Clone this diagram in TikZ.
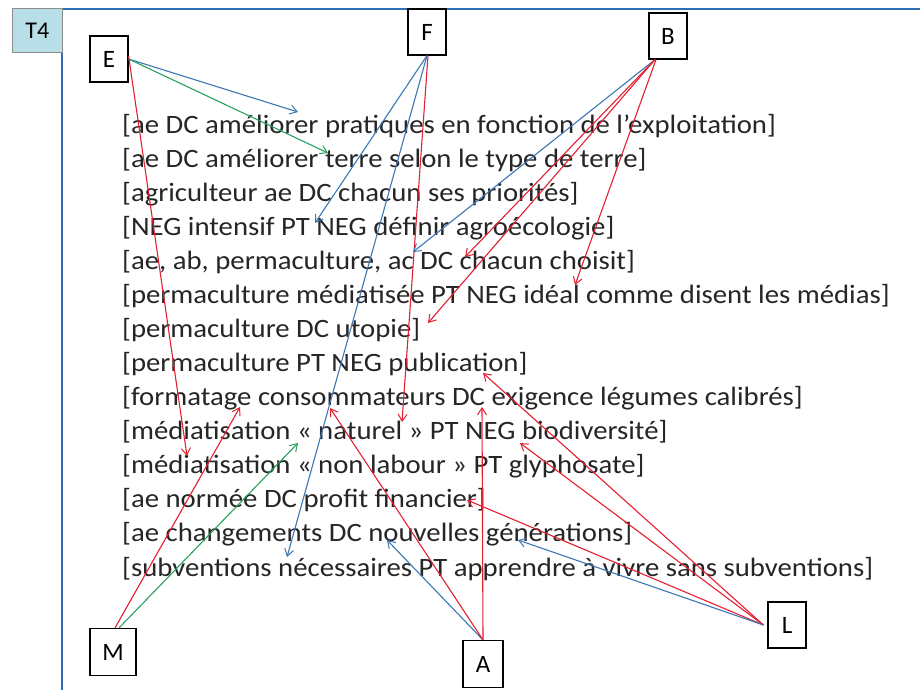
\documentclass[tikz,border=0pt]{standalone}
\usepackage{fontspec}
\setmainfont{Carlito}
\newfontfamily\headfont{Liberation Serif}
\usetikzlibrary{arrows.meta}
\definecolor{cred}{RGB}{228,32,48}
\definecolor{cblue}{RGB}{60,120,180}
\definecolor{cgreen}{RGB}{40,160,95}
\definecolor{frameblue}{RGB}{46,110,178}
\definecolor{tfill}{RGB}{184,222,232}
\tikzset{
  lbox/.style={draw=black, line width=1.2pt, fill=white, minimum width=38pt, minimum height=46pt, inner sep=0pt, font=\fontsize{25}{25}\selectfont},
  stmt/.style={anchor=base west, inner sep=0pt, font=\fontsize{26.5}{26.5}\selectfont, text=black!85},
  conn/.style={line width=1.1pt, -{Straight Barb[length=7pt,width=9pt,line width=1pt]}},
  rc/.style={conn, draw=cred},
  bc/.style={conn, draw=cblue},
  gc/.style={conn, draw=cgreen},
}
\begin{document}
\begin{tikzpicture}[x=1pt,y=-1pt]
\useasboundingbox (0,0) rectangle (920,689);
\fill[white] (0,0) rectangle (920,689);
% cut heading fragment
\begin{scope}
\clip (300,0) rectangle (380,4);
\node[anchor=base, inner sep=0pt, font=\headfont\bfseries\fontsize{26}{26}\selectfont] (head) at (335,-6) {pp};
\end{scope}
% frame
\draw[frameblue, line width=2.2pt] (62,692) -- (62,9) -- (922,9);
\node[draw=black!45, fill=tfill, line width=0.8pt, minimum width=50pt, minimum height=44pt, inner sep=0pt, font=\fontsize{24}{24}\selectfont, anchor=north west] (T4) at (12,8) {T4};
% statements
\foreach \i/\t in {0/{[ae DC améliorer pratiques en fonction de l’exploitation]},
  1/{[ae DC améliorer terre selon le type de terre]},
  2/{[agriculteur ae DC chacun ses priorités]},
  3/{[NEG intensif PT NEG définir agroécologie]},
  4/{[ae, ab, permaculture, ac DC chacun choisit]},
  5/{[permaculture médiatisée PT NEG idéal comme disent les médias]},
  6/{[permaculture DC utopie]},
  7/{[permaculture PT NEG publication]},
  8/{[formatage consommateurs DC exigence légumes calibrés]},
  9/{[médiatisation « naturel » PT NEG biodiversité]},
  10/{[médiatisation « non labour » PT glyphosate]},
  11/{[ae normée DC profit financier]},
  12/{[ae changements DC nouvelles générations]},
  13/{[subventions nécessaires PT apprendre à vivre sans subventions]}}
  \node[stmt] (s\i) at (122,{133+34.08*\i}) {\scalebox{1.085}[1]{\t}};
% actor boxes
\node[lbox] (E) at (109,59) {E};
\node[lbox] (F) at (427,32) {F};
\node[lbox] (B) at (668,36) {B};
\node[lbox, minimum width=46pt, minimum height=47pt] (M) at (113,652) {M};
\node[lbox, minimum width=40pt, minimum height=47pt] (A) at (483,664) {A};
\node[lbox] (L) at (787,625) {L};
% arrow end points
\coordinate (e1) at (298,112);
\coordinate (e2) at (328,153);
\coordinate (e3) at (187,456);
\coordinate (f1) at (315,223);
\coordinate (f2) at (287,557);
\coordinate (f3) at (402,422);
\coordinate (b1) at (413,252);
\coordinate (b2) at (465,257);
\coordinate (b3) at (428,323);
\coordinate (b4) at (575,285);
\coordinate (m1) at (240,407);
\coordinate (m2) at (298,443);
\coordinate (a1) at (387,540);
\coordinate (a2) at (330,408);
\coordinate (a3) at (482,407);
\coordinate (l1) at (483,373);
\coordinate (l2) at (520,443);
\coordinate (l3) at (467,500);
\coordinate (l4) at (518,540);
% connectors
\draw[bc] (E.east) -- (e1);
\draw[gc] (E.east) -- (e2);
\draw[rc] ([yshift=3pt]E.east) -- (e3);
\draw[bc] (F.south) -- (f1);
\draw[bc] (F.south) -- (f2);
\draw[rc] ([xshift=1pt]F.south) -- (f3);
\draw[bc] ([xshift=-13pt]B.south) -- (b1);
\draw[rc] ([xshift=-13pt]B.south) -- (b2);
\draw[rc] ([xshift=-13pt]B.south) -- (b3);
\draw[rc] ([xshift=-12pt]B.south) -- (b4);
\draw[rc] ([xshift=2pt]M.north) -- (m1);
\draw[gc] ([xshift=6pt]M.north) -- (m2);
\draw[bc] (A.north) -- (a1);
\draw[rc] (A.north) -- (a2);
\draw[rc] (A.north) -- (a3);
\draw[rc] ([xshift=-4pt]L.west) -- (l1);
\draw[rc] ([xshift=-4pt]L.west) -- (l2);
\draw[rc] ([xshift=-4pt]L.west) -- (l3);
\draw[bc] ([xshift=-4pt]L.west) -- (l4);
\end{tikzpicture}
\end{document}
